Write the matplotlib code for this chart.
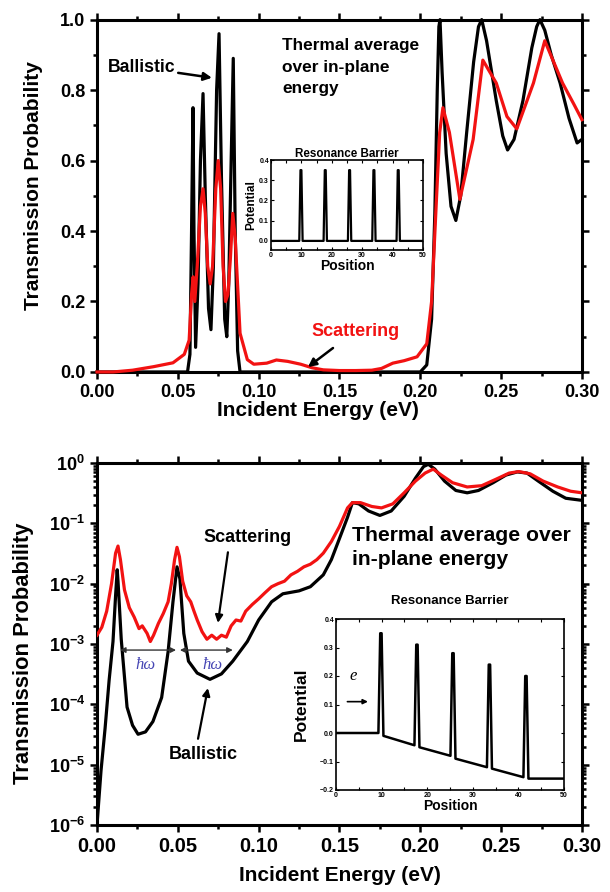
import matplotlib
matplotlib.use("Agg")
import matplotlib.pyplot as plt
from matplotlib.ticker import (MultipleLocator, FixedLocator, LogLocator,
                               LogFormatterMathtext, NullFormatter)

# ----------------------------
# Global look
# ----------------------------
plt.rcParams['font.family'] = ['Liberation Sans', 'DejaVu Sans']
plt.rcParams['font.weight'] = 'bold'
plt.rcParams['axes.labelweight'] = 'bold'
plt.rcParams['mathtext.fontset'] = 'custom'
plt.rcParams['mathtext.rm'] = 'Liberation Sans:bold'
plt.rcParams['mathtext.bf'] = 'Liberation Sans:bold'
plt.rcParams['mathtext.default'] = 'bf'

RED = '#f21212'
LINE_W = 2.3
SPINE_W = 2.2
HW_COLOR = '#4646b4'

# ----------------------------
# Data: top panel (linear)
# ----------------------------
top_ball_E = [0.000, 0.0560, 0.0575, 0.0585, 0.0594, 0.0600, 0.0610, 0.0625, 0.0640,
              0.0656, 0.0670, 0.0690, 0.0705, 0.0720, 0.0740, 0.0755, 0.0770, 0.0790,
              0.0803, 0.0815, 0.0830, 0.0843, 0.0855, 0.0870, 0.0885, 0.2000, 0.2040,
              0.2070, 0.2090, 0.2105, 0.2115, 0.2122, 0.2135, 0.2160, 0.2190, 0.2220,
              0.2250, 0.2287, 0.2330, 0.2360, 0.2380, 0.2410, 0.2470, 0.2510, 0.2540,
              0.2580, 0.2635, 0.2690, 0.2720, 0.2740, 0.2770, 0.2810, 0.2865, 0.2920,
              0.2970, 0.3000]
top_ball_T = [0.0, 0.0, 0.05, 0.40, 0.75, 0.40, 0.07, 0.25, 0.60,
              0.79, 0.50, 0.18, 0.12, 0.30, 0.80, 0.96, 0.55, 0.15,
              0.10, 0.25, 0.60, 0.89, 0.40, 0.06, 0.0, 0.0, 0.02,
              0.15, 0.45, 0.80, 0.98, 1.00, 0.85, 0.62, 0.47, 0.43,
              0.50, 0.68, 0.88, 0.98, 1.00, 0.94, 0.77, 0.67, 0.63,
              0.66, 0.77, 0.92, 0.98, 1.00, 0.97, 0.90, 0.82, 0.72,
              0.65, 0.66]

top_scat_E = [0.000, 0.010, 0.022, 0.035, 0.047, 0.054, 0.0570, 0.0585, 0.0595, 0.0605,
              0.0620, 0.0640, 0.0656, 0.0670, 0.0685, 0.0700, 0.0715, 0.0735, 0.0750,
              0.0765, 0.0780, 0.0795, 0.0810, 0.0825, 0.0840, 0.0855, 0.0885, 0.0930,
              0.0970, 0.1050, 0.1110, 0.1180, 0.1260, 0.1330, 0.1400, 0.1500, 0.1600,
              0.1700, 0.1760, 0.1830, 0.1900, 0.1980, 0.2040, 0.2070, 0.2100, 0.2120,
              0.2140, 0.2180, 0.2245, 0.2327, 0.2387, 0.2470, 0.2536, 0.2597, 0.2700,
              0.2770, 0.2880, 0.2950, 0.3000]
top_scat_T = [0.0, 0.0, 0.005, 0.015, 0.026, 0.050, 0.09, 0.22, 0.27, 0.20,
              0.30, 0.47, 0.52, 0.45, 0.30, 0.25, 0.30, 0.52, 0.60,
              0.52, 0.30, 0.20, 0.22, 0.32, 0.45, 0.38, 0.11, 0.035,
              0.022, 0.025, 0.034, 0.030, 0.022, 0.012, 0.006, 0.004, 0.004,
              0.005, 0.010, 0.025, 0.032, 0.043, 0.08, 0.20, 0.49, 0.68,
              0.75, 0.68, 0.49, 0.66, 0.885, 0.82, 0.725, 0.69, 0.82,
              0.94, 0.82, 0.76, 0.716]

# ----------------------------
# Data: bottom panel (log)
# ----------------------------
bot_ball_E = [0.0000, 0.0025, 0.0050, 0.0075, 0.0099, 0.0115, 0.0125, 0.0130, 0.0150,
              0.0186, 0.0220, 0.0254, 0.0300, 0.0346, 0.0400, 0.0440, 0.0470, 0.0495,
              0.0513, 0.0537, 0.0566, 0.0620, 0.0699, 0.0770, 0.0840, 0.0930, 0.1000,
              0.1080, 0.1150, 0.1250, 0.1320, 0.1400, 0.1450, 0.1500, 0.1550, 0.1580,
              0.1620, 0.1680, 0.1750, 0.1820, 0.1900, 0.1970, 0.2020, 0.2050, 0.2090,
              0.2150, 0.2220, 0.2290, 0.2360, 0.2450, 0.2530, 0.2600, 0.2660, 0.2730,
              0.2820, 0.2900, 0.3000]
bot_ball_T = [1.0e-6, 8.0e-6, 4.0e-5, 2.5e-4, 1.1e-3, 6.3e-3, 1.7e-2, 1.1e-2, 1.2e-3,
              9.0e-5, 4.5e-5, 3.2e-5, 3.5e-5, 5.2e-5, 1.3e-4, 7.5e-4, 5.0e-3, 1.9e-2,
              1.2e-2, 1.5e-3, 5.2e-4, 3.3e-4, 2.6e-4, 3.2e-4, 5.2e-4, 1.1e-3, 2.5e-3,
              5.0e-3, 6.8e-3, 7.6e-3, 8.9e-3, 1.4e-2, 2.5e-2, 5.6e-2, 1.26e-1, 2.2e-1,
              2.1e-1, 1.6e-1, 1.35e-1, 1.6e-1, 2.8e-1, 5.6e-1, 8.7e-1, 9.5e-1, 7.9e-1,
              5.0e-1, 3.5e-1, 3.2e-1, 3.5e-1, 4.7e-1, 6.3e-1, 7.1e-1, 6.8e-1, 5.0e-1,
              3.4e-1, 2.6e-1, 2.4e-1]

bot_scat_E = [0.000, 0.003, 0.006, 0.009, 0.0115, 0.013, 0.0145, 0.017, 0.020, 0.023,
              0.026, 0.028, 0.031, 0.033, 0.035, 0.038, 0.041, 0.044, 0.046, 0.048,
              0.0495, 0.051, 0.053, 0.0555, 0.058, 0.060, 0.062, 0.065, 0.068, 0.071,
              0.074, 0.077, 0.080, 0.083, 0.086, 0.089, 0.092, 0.096, 0.100, 0.104,
              0.108, 0.112, 0.116, 0.120, 0.124, 0.128, 0.132, 0.136, 0.140, 0.145,
              0.150, 0.155, 0.158, 0.163, 0.170, 0.176, 0.183, 0.190, 0.197, 0.203,
              0.208, 0.213, 0.220, 0.229, 0.238, 0.247, 0.255, 0.261, 0.268, 0.276,
              0.285, 0.293, 0.300]
bot_scat_T = [1.4e-3, 1.9e-3, 3.5e-3, 1.0e-2, 3.2e-2, 4.2e-2, 2.5e-2, 7.9e-3, 4.0e-3, 2.8e-3,
              1.8e-3, 2.0e-3, 1.5e-3, 1.1e-3, 1.4e-3, 2.2e-3, 3.2e-3, 5.0e-3, 1.0e-2, 2.5e-2,
              4.0e-2, 2.8e-2, 1.1e-2, 6.3e-3, 5.0e-3, 3.5e-3, 2.5e-3, 1.6e-3, 1.2e-3, 1.4e-3,
              1.2e-3, 1.4e-3, 1.3e-3, 2.0e-3, 2.5e-3, 2.4e-3, 3.5e-3, 4.5e-3, 5.6e-3, 7.1e-3,
              8.9e-3, 1.0e-2, 1.1e-2, 1.4e-2, 1.6e-2, 1.9e-2, 2.1e-2, 2.5e-2, 3.2e-2, 5.0e-2,
              8.9e-2, 1.8e-1, 2.2e-1, 2.2e-1, 1.9e-1, 1.8e-1, 2.1e-1, 3.2e-1, 5.0e-1, 6.8e-1,
              7.9e-1, 6.3e-1, 4.7e-1, 4.0e-1, 4.2e-1, 5.4e-1, 6.8e-1, 7.2e-1, 6.6e-1, 5.0e-1,
              4.0e-1, 3.4e-1, 3.2e-1]

log_decades = [1e-6, 1e-5, 1e-4, 1e-3, 1e-2, 1e-1, 1e0]

# ----------------------------
# Data: inset potentials
# ----------------------------
flat_pos = [0, 9.3, 9.7, 10.0, 10.4, 17.3, 17.7, 18.0, 18.4, 25.3, 25.7, 26.0, 26.4,
            33.3, 33.7, 34.0, 34.4, 41.3, 41.7, 42.0, 42.4, 50]
flat_pot = [0.0, 0.0, 0.35, 0.35, 0.0, 0.0, 0.35, 0.35, 0.0, 0.0, 0.35, 0.35, 0.0,
            0.0, 0.35, 0.35, 0.0, 0.0, 0.35, 0.35, 0.0, 0.0]

bias_pos = [0, 9.3, 9.7, 10.0, 10.4, 17.2, 17.6, 17.9, 18.3, 25.1, 25.5, 25.8, 26.2,
            33.1, 33.5, 33.8, 34.2, 41.1, 41.5, 41.8, 42.2, 50]
bias_pot = [0.0, 0.0, 0.35, 0.35, -0.01, -0.043, 0.31, 0.31, -0.05, -0.08, 0.28, 0.28,
            -0.09, -0.12, 0.24, 0.24, -0.125, -0.155, 0.20, 0.20, -0.16, -0.16]

fig = plt.figure(figsize=(6.10, 8.92), dpi=100)


def style_main(ax):
    for sp in ax.spines.values():
        sp.set_linewidth(SPINE_W)
    ax.tick_params(which='both', direction='out', top=True, right=True,
                   labeltop=False, labelright=False, width=1.8)
    ax.tick_params(which='major', length=5, labelsize=13)
    ax.tick_params(which='minor', length=3)
    ax.xaxis.set_major_locator(MultipleLocator(0.05))
    ax.xaxis.set_minor_locator(MultipleLocator(0.025))
    ax.xaxis.set_major_formatter(plt.FuncFormatter(lambda v, p: f"{v:.2f}"))
    ax.set_xlim(0, 0.30)


def style_inset(ax, title, title_size, label_size, ylabel_size, title_pad):
    for sp in ax.spines.values():
        sp.set_linewidth(1.2)
    ax.tick_params(which='both', direction='in', top=True, right=True,
                   labeltop=False, labelright=False, width=0.8, length=2.5,
                   labelsize=5, pad=1.5)
    ax.set_xlim(0, 50)
    ax.xaxis.set_major_locator(MultipleLocator(10))
    ax.xaxis.set_minor_locator(MultipleLocator(5))
    ax.yaxis.set_major_locator(MultipleLocator(0.1))
    ax.set_title(title, fontsize=title_size, fontweight='bold', pad=title_pad)
    ax.set_xlabel('Position', fontsize=label_size, labelpad=0)
    ax.set_ylabel('Potential', fontsize=ylabel_size, labelpad=1)


# ----------------------------
# Top panel
# ----------------------------
ax1 = fig.add_axes([0.159, 0.583, 0.795, 0.395])
ax1.plot(top_ball_E, top_ball_T, color='black', lw=LINE_W, zorder=3, clip_on=False)
ax1.plot(top_scat_E, top_scat_T, color=RED, lw=LINE_W, zorder=4, clip_on=False)
style_main(ax1)
ax1.set_ylim(0, 1.0)
ax1.yaxis.set_major_locator(MultipleLocator(0.2))
ax1.yaxis.set_minor_locator(MultipleLocator(0.1))
ax1.yaxis.set_major_formatter(plt.FuncFormatter(lambda v, p: f"{v:.1f}"))
ax1.set_ylabel('Transmission Probability', fontsize=15)
ax1.yaxis.set_label_coords(-0.111, 0.53)
ax1.set_xlabel('Incident Energy (eV)', fontsize=15)
ax1.xaxis.set_label_coords(0.456, -0.082)

ax1.annotate('Ballistic', xy=(0.0711, 0.835), xytext=(0.0485, 0.864),
             fontsize=12.7, ha='right', va='center',
             arrowprops=dict(arrowstyle='-|>', color='black', lw=1.8,
                             mutation_scale=12, shrinkA=0, shrinkB=0))
ax1.annotate('', xy=(0.1305, 0.014), xytext=(0.146, 0.068),
             arrowprops=dict(arrowstyle='-|>', color='black', lw=1.8,
                             mutation_scale=12, shrinkA=0, shrinkB=0), zorder=6)
ax1.text(0.160, 0.114, 'Scattering', color=RED, fontsize=13, ha='center', va='center')
ax1.text(0.1144, 0.948, 'Thermal average\nover in-plane\nenergy', fontsize=12.4,
         ha='left', va='top', linespacing=1.55)

ins1 = fig.add_axes([271 / 610, 1 - 250 / 892, 152 / 610, 90 / 892])
ins1.plot(flat_pos, flat_pot, color='black', lw=1.6)
ins1.set_ylim(-0.045, 0.4)
style_inset(ins1, 'Resonance Barrier', 8.4, 10, 8.5, 2)

# ----------------------------
# Bottom panel
# ----------------------------
ax2 = fig.add_axes([0.159, 0.075, 0.795, 0.406])
ax2.plot(bot_ball_E, bot_ball_T, color='black', lw=LINE_W, zorder=3)
ax2.plot(bot_scat_E, bot_scat_T, color=RED, lw=LINE_W, zorder=4)
ax2.set_yscale('log')
style_main(ax2)
ax2.tick_params(which='major', labelsize=14.5)
ax2.set_ylim(1e-6, 1.0)
ax2.yaxis.set_major_locator(FixedLocator(log_decades))
ax2.yaxis.set_minor_locator(LogLocator(base=10, subs=range(2, 10), numticks=20))
ax2.yaxis.set_major_formatter(LogFormatterMathtext())
ax2.yaxis.set_minor_formatter(NullFormatter())
ax2.tick_params(axis='y', which='major', labelsize=13)
ax2.set_ylabel('Transmission Probability', fontsize=15.8)
ax2.yaxis.set_label_coords(-0.130, 0.475)
ax2.set_xlabel('Incident Energy (eV)', fontsize=15)
ax2.xaxis.set_label_coords(0.5, -0.112)

arrow_kw = dict(arrowstyle='-|>', color='black', lw=1.6, mutation_scale=11,
                shrinkA=0, shrinkB=0)
ax2.annotate('', xy=(0.0748, 10 ** -2.65), xytext=(0.081, 10 ** -1.48), arrowprops=arrow_kw)
ax2.text(0.0934, 10 ** -1.23, 'Scattering', fontsize=13, ha='center', va='center')
ax2.annotate('', xy=(0.0686, 10 ** -3.73), xytext=(0.0625, 10 ** -4.57), arrowprops=arrow_kw)
ax2.text(0.066, 10 ** -4.83, 'Ballistic', fontsize=13, ha='center', va='center')

hw_kw = dict(arrowstyle='<|-|>', color='#333333', lw=1.0, mutation_scale=8,
             shrinkA=0, shrinkB=0)
ax2.annotate('', xy=(0.0142, 10 ** -3.1), xytext=(0.0489, 10 ** -3.1), arrowprops=hw_kw)
ax2.annotate('', xy=(0.0513, 10 ** -3.1), xytext=(0.084, 10 ** -3.1), arrowprops=hw_kw)
for hx in (0.0297, 0.0717):
    ax2.text(hx, 10 ** -3.35, 'ħω', color=HW_COLOR, fontsize=12, ha='center', va='center',
             family='Liberation Serif', style='italic', fontweight='normal')
ax2.text(0.1577, 10 ** -1.4, 'Thermal average over\nin-plane energy', fontsize=15.2,
         ha='left', va='center', linespacing=1.3)

ins2 = fig.add_axes([336 / 610, 1 - 790 / 892, 228 / 610, 171 / 892])
ins2.plot(bias_pos, bias_pot, color='black', lw=1.8)
ins2.set_ylim(-0.2, 0.4)
style_inset(ins2, 'Resonance Barrier', 9.5, 10, 12.5, 11)
ins2.yaxis.set_label_coords(-0.12, 0.5)
ins2.annotate('', xy=(7.0, 0.11), xytext=(2.5, 0.11),
              arrowprops=dict(arrowstyle='-|>', color='black', lw=1.2,
                              mutation_scale=7, shrinkA=0, shrinkB=0))
ins2.text(3.8, 0.2, 'e', fontsize=12, family='Liberation Serif', style='italic',
          fontweight='normal', ha='center', va='center')

fig.savefig('out.png', dpi=100)
